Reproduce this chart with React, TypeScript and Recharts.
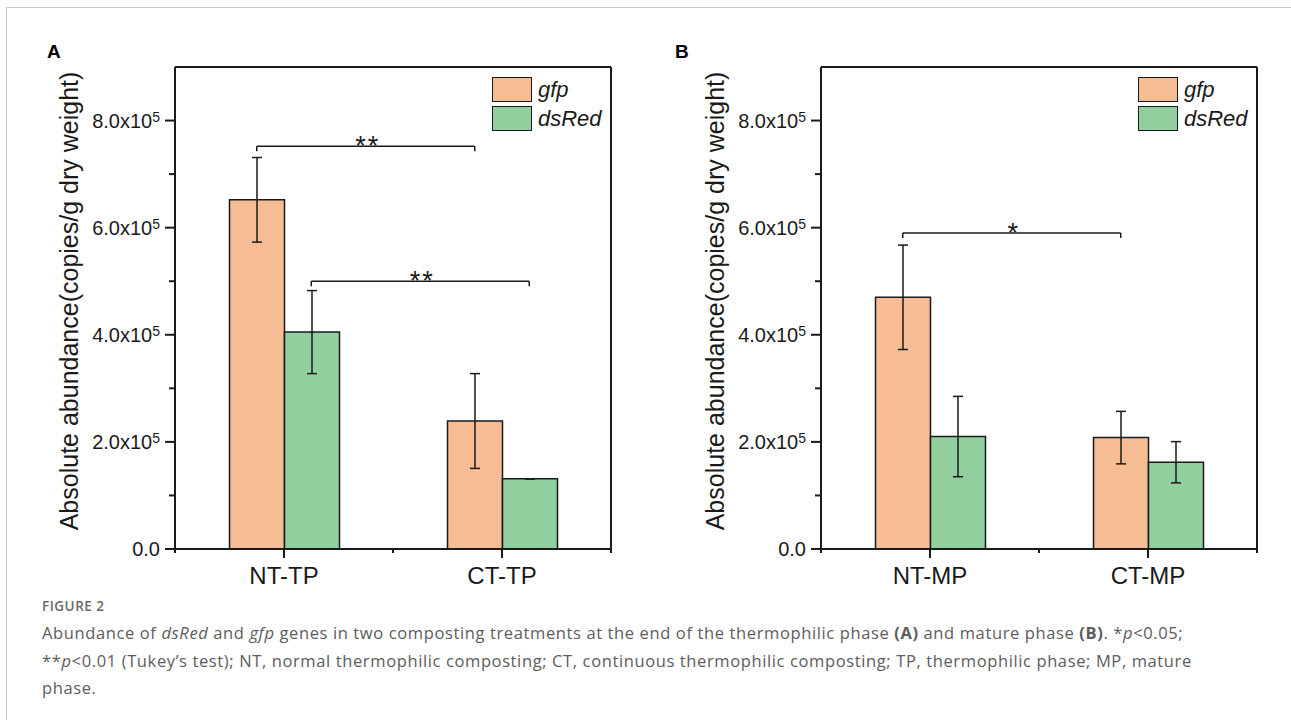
import React from 'react'
import {
  BarChart, Bar, XAxis, YAxis, ErrorBar, ReferenceLine, Legend,
} from 'recharts'

const categoriesA = ['NT-TP', 'CT-TP']
const gfpA = [6.52e5, 2.39e5]
const gfpErrA = [0.79e5, 0.885e5]
const dsRedA = [4.05e5, 1.31e5]
const dsRedErrA = [0.775e5, 0.002e5]

const categoriesB = ['NT-MP', 'CT-MP']
const gfpB = [4.7e5, 2.08e5]
const gfpErrB = [0.975e5, 0.49e5]
const dsRedB = [2.1e5, 1.62e5]
const dsRedErrB = [0.75e5, 0.385e5]

const seriesNames = ['gfp', 'dsRed']
const yTicks = [0, 1e5, 2e5, 3e5, 4e5, 5e5, 6e5, 7e5, 8e5]
const xTicks = [0, 0.25, 0.5, 0.75, 1]
const yMax = 9e5

// significance brackets: series index, from/to category index, height, mark
const sigA = [
  { series: 0, from: 0, to: 1, y: 7.52e5, mark: '**' },
  { series: 1, from: 0, to: 1, y: 5.0e5, mark: '**' },
]
const sigB = [
  { series: 0, from: 0, to: 1, y: 5.9e5, mark: '*' },
]

const GFP = '#F6BD95'
const DSRED = '#92CF9E'
const INK = '#1a1a1a'
const FONT = '"Liberation Sans", Arial, sans-serif'
const GAP = 0.25
const DROP = 9500

function barCenter(cat: number, series: number, n: number) {
  const band = 1 / n
  const barW = (band * (1 - 2 * GAP)) / 2
  return cat * band + band / 2 + (series - 0.5) * barW
}

function YTick({ x, y, payload }: any) {
  const v = payload.value
  const major = v % 2e5 === 0
  return (
    <g>
      <line x1={x - (major ? 10 : 6)} x2={x} y1={y} y2={y} stroke={INK} strokeWidth={2} />
      {major && (
        <text x={x - 15} y={y + 7} textAnchor="end" fontSize={20} fill={INK} fontFamily={FONT}>
          {v === 0 ? '0.0' : (
            <>
              {(v / 1e5).toFixed(1)}x10
              <tspan fontSize={14} dy={-6}>5</tspan>
            </>
          )}
        </text>
      )}
    </g>
  )
}

function makeXTick(categories: string[]) {
  return function XTick({ x, y, payload }: any) {
    const v = payload.value
    const idx = categories.findIndex((_, i) => Math.abs((i + 0.5) / categories.length - v) < 1e-6)
    const major = idx >= 0
    return (
      <g>
        <line x1={x} x2={x} y1={y} y2={y + (major ? 9 : 4)} stroke={INK} strokeWidth={2} />
        {major && (
          <text x={x} y={y + 35} textAnchor="middle" fontSize={24} fill={INK} fontFamily={FONT}>
            {categories[idx]}
          </text>
        )}
      </g>
    )
  }
}

function LegendBox({ payload }: any) {
  const items = [...(payload || [])].sort(
    (a: any, b: any) => seriesNames.indexOf(a.value) - seriesNames.indexOf(b.value),
  )
  return (
    <div style={{ fontFamily: FONT }}>
      {items.map((p: any) => (
        <div key={p.value} style={{ display: 'flex', alignItems: 'center', marginBottom: 4 }}>
          <div style={{ width: 38, height: 23, background: p.color, border: `1.5px solid ${INK}` }} />
          <span style={{ fontStyle: 'italic', fontSize: 22, marginLeft: 6, color: INK, lineHeight: '24px' }}>{p.value}</span>
        </div>
      ))}
    </div>
  )
}

interface PanelProps {
  categories: string[]
  gfp: number[]
  gfpErr: number[]
  dsRed: number[]
  dsRedErr: number[]
  sig: { series: number, from: number, to: number, y: number, mark: string }[]
}

function Panel({ categories, gfp, gfpErr, dsRed, dsRedErr, sig }: PanelProps) {
  const data = categories.map((c, i) => ({
    cat: c, gfp: gfp[i], gfpErr: gfpErr[i], dsRed: dsRed[i], dsRedErr: dsRedErr[i],
  }))
  const n = categories.length
  return (
    <BarChart
      width={640} height={600} data={data}
      margin={{ top: 67, right: 29, left: 0, bottom: 0 }}
      barCategoryGap="25%" barGap={0}
    >
      <XAxis dataKey="cat" hide height={0} />
      <XAxis
        xAxisId="num" type="number" domain={[0, 1]} ticks={xTicks} interval={0}
        height={51} tickSize={0} tickMargin={0} tickLine={false}
        axisLine={{ stroke: INK, strokeWidth: 2 }} tick={makeXTick(categories)}
      />
      <YAxis
        domain={[0, yMax]} ticks={yTicks} interval={0} width={175}
        tickSize={0} tickMargin={0} tickLine={false}
        axisLine={{ stroke: INK, strokeWidth: 2 }} tick={<YTick />}
        label={{
          content: () => (
            <text
              x={78} y={301} transform="rotate(-90, 78, 301)" textAnchor="middle"
              fontSize={25} fill={INK} fontFamily={FONT}
            >
              Absolute abundance(copies/g dry weight)
            </text>
          ),
        }}
      />
      <ReferenceLine y={yMax} stroke={INK} strokeWidth={2} />
      <ReferenceLine xAxisId="num" x={1} stroke={INK} strokeWidth={2} />
      <Legend
        layout="vertical" align="center" verticalAlign="middle"
        wrapperStyle={{ top: 77, left: 492, width: 'auto' }}
        content={<LegendBox />}
      />
      <Bar dataKey="gfp" name="gfp" fill={GFP} stroke={INK} strokeWidth={1.5} isAnimationActive={false}>
        <ErrorBar dataKey="gfpErr" width={5} stroke={INK} strokeWidth={1.5} isAnimationActive={false} />
      </Bar>
      <Bar dataKey="dsRed" name="dsRed" fill={DSRED} stroke={INK} strokeWidth={1.5} isAnimationActive={false}>
        <ErrorBar dataKey="dsRedErr" width={5} stroke={INK} strokeWidth={1.5} isAnimationActive={false} />
      </Bar>
      {sig.map((s, k) => {
        const x1 = barCenter(s.from, s.series, n)
        const x2 = barCenter(s.to, s.series, n)
        return (
          <React.Fragment key={k}>
            <ReferenceLine
              xAxisId="num" stroke={INK} strokeWidth={1.5}
              segment={[{ x: x1, y: s.y }, { x: x2, y: s.y }]}
              label={{
                content: ({ viewBox }: any) => (
                  <text
                    x={viewBox.x + viewBox.width / 2 + 2} y={viewBox.y + 9}
                    textAnchor="middle" fontSize={27} letterSpacing={2} fill={INK} fontFamily={FONT}
                  >
                    {s.mark}
                  </text>
                ),
              }}
            />
            <ReferenceLine xAxisId="num" stroke={INK} strokeWidth={1.5}
              segment={[{ x: x1, y: s.y }, { x: x1, y: s.y - DROP }]} />
            <ReferenceLine xAxisId="num" stroke={INK} strokeWidth={1.5}
              segment={[{ x: x2, y: s.y }, { x: x2, y: s.y - DROP }]} />
          </React.Fragment>
        )
      })}
    </BarChart>
  )
}

const capStyle: React.CSSProperties = {
  position: 'absolute', left: 42, fontFamily: '"Open Sans", "Noto Sans", sans-serif',
  color: '#5c5c5c', fontSize: 16.5, letterSpacing: 0.62, whiteSpace: 'nowrap', lineHeight: '20px',
}

export default function App() {
  return (
    <div style={{ position: 'absolute', left: 0, top: 0, width: 1291, height: 720, background: '#fff', overflow: 'hidden' }}>
      <div style={{ position: 'absolute', left: 6, top: 7, right: 0, bottom: 0, borderTop: '1px solid #c8c8c8', borderLeft: '1px solid #c8c8c8' }} />
      <div style={{ position: 'absolute', left: 0, top: 0 }}>
        <Panel categories={categoriesA} gfp={gfpA} gfpErr={gfpErrA} dsRed={dsRedA} dsRedErr={dsRedErrA} sig={sigA} />
      </div>
      <div style={{ position: 'absolute', left: 646, top: 0 }}>
        <Panel categories={categoriesB} gfp={gfpB} gfpErr={gfpErrB} dsRed={dsRedB} dsRedErr={dsRedErrB} sig={sigB} />
      </div>
      <div style={{ position: 'absolute', left: 47, top: 41, fontFamily: FONT, fontWeight: 'bold', fontSize: 19, color: '#000' }}>A</div>
      <div style={{ position: 'absolute', left: 675, top: 41, fontFamily: FONT, fontWeight: 'bold', fontSize: 19, color: '#000' }}>B</div>
      <div style={{ ...capStyle, top: 596, fontSize: 13.5, letterSpacing: 0.5, fontWeight: 600, color: '#6a6a6a' }}>FIGURE 2</div>
      <div style={{ ...capStyle, top: 623 }}>
        Abundance of <i>dsRed</i> and <i>gfp</i> genes in two composting treatments at the end of the thermophilic phase <b>(A)</b> and mature phase <b>(B)</b>. *<i>p</i>&lt;0.05;
      </div>
      <div style={{ ...capStyle, top: 650.5 }}>
        **<i>p</i>&lt;0.01 (Tukey’s test); NT, normal thermophilic composting; CT, continuous thermophilic composting; TP, thermophilic phase; MP, mature
      </div>
      <div style={{ ...capStyle, top: 678 }}>phase.</div>
    </div>
  )
}
